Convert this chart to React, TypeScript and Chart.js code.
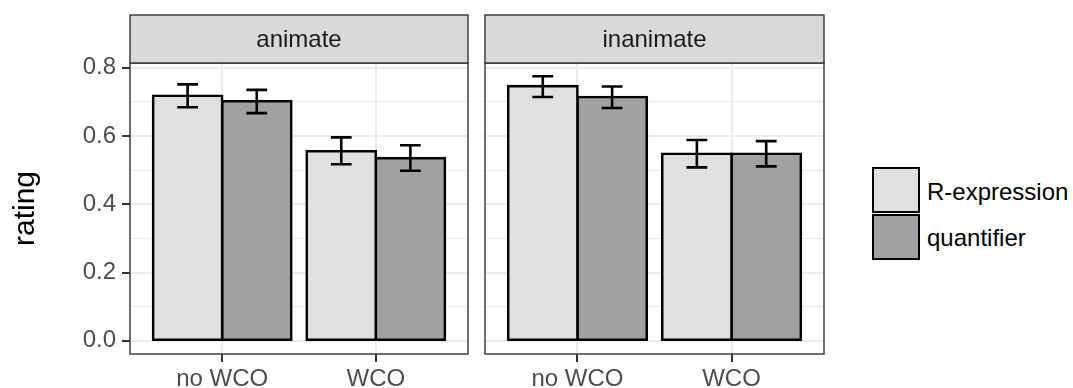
import React, { useEffect, useRef } from 'react';
import { Chart, registerables } from 'chart.js';

Chart.register(...registerables);

// ---------- data ----------
const categories = ['no WCO', 'WCO'];
const facetNames = ['animate', 'inanimate'];
const seriesNames = ['R-expression', 'quantifier'];
const seriesColors = ['#E0E0E0', '#A1A1A1'];

const animateRexp = [0.718, 0.555];
const animateRexpLow = [0.684, 0.517];
const animateRexpHigh = [0.751, 0.596];
const animateQuant = [0.702, 0.535];
const animateQuantLow = [0.667, 0.498];
const animateQuantHigh = [0.735, 0.573];

const inanimateRexp = [0.746, 0.548];
const inanimateRexpLow = [0.714, 0.508];
const inanimateRexpHigh = [0.775, 0.588];
const inanimateQuant = [0.714, 0.548];
const inanimateQuantLow = [0.682, 0.511];
const inanimateQuantHigh = [0.745, 0.585];

const yTickValues = [0, 0.1, 0.2, 0.3, 0.4, 0.5, 0.6, 0.7, 0.8];
const yMin = -0.03875;
const yMax = 0.81375;
const xMin = 0.4;
const xMax = 2.6;
const yTitle = 'rating';

const FONT = '"Liberation Sans", Arial, Helvetica, sans-serif';

type Facet = {
  name: string;
  values: number[][];
  lows: number[][];
  highs: number[][];
};

const facetData: Facet[] = [
  {
    name: facetNames[0],
    values: [animateRexp, animateQuant],
    lows: [animateRexpLow, animateQuantLow],
    highs: [animateRexpHigh, animateQuantHigh],
  },
  {
    name: facetNames[1],
    values: [inanimateRexp, inanimateQuant],
    lows: [inanimateRexpLow, inanimateQuantLow],
    highs: [inanimateRexpHigh, inanimateQuantHigh],
  },
];

function makePlugin(facet: Facet) {
  return {
    id: 'facetDecor',
    afterDatasetsDraw(chart: any) {
      const ctx = chart.ctx;
      const y = chart.scales.y;
      chart.data.datasets.forEach((_ds: any, di: number) => {
        const meta = chart.getDatasetMeta(di);
        meta.data.forEach((el: any, i: number) => {
          const x = el.x;
          const half = el.width * 0.15;
          const yl = y.getPixelForValue(facet.lows[di][i]);
          const yh = y.getPixelForValue(facet.highs[di][i]);
          ctx.save();
          ctx.strokeStyle = '#000';
          ctx.lineWidth = 2.6;
          ctx.beginPath();
          ctx.moveTo(x, yl);
          ctx.lineTo(x, yh);
          ctx.moveTo(x - half, yl);
          ctx.lineTo(x + half, yl);
          ctx.moveTo(x - half, yh);
          ctx.lineTo(x + half, yh);
          ctx.stroke();
          ctx.restore();
        });
      });
    },
    afterDraw(chart: any) {
      const ctx = chart.ctx;
      const a = chart.chartArea;
      ctx.save();
      // panel border
      ctx.strokeStyle = '#333333';
      ctx.lineWidth = 1.4;
      ctx.strokeRect(a.left, a.top, a.right - a.left, a.bottom - a.top);
      // strip
      const stripTop = 15;
      ctx.fillStyle = '#D9D9D9';
      ctx.fillRect(a.left, stripTop, a.right - a.left, a.top - stripTop);
      ctx.strokeRect(a.left, stripTop, a.right - a.left, a.top - stripTop);
      ctx.fillStyle = '#1A1A1A';
      ctx.font = `24px ${FONT}`;
      ctx.textAlign = 'center';
      ctx.textBaseline = 'middle';
      ctx.fillText(facet.name, (a.left + a.right) / 2, (stripTop + a.top) / 2 + 1);
      ctx.restore();
    },
  };
}

function FacetChart({ facet, first, left, width }: { facet: Facet; first: boolean; left: number; width: number }) {
  const ref = useRef<HTMLCanvasElement | null>(null);
  useEffect(() => {
    if (!ref.current) return;
    const chart = new Chart(ref.current, {
      type: 'bar',
      data: {
        datasets: seriesNames.map((s, si) => ({
          label: s,
          data: categories.map((_c, ci) => ({ x: ci + 1, y: facet.values[si][ci] })),
          backgroundColor: seriesColors[si],
          borderColor: '#000000',
          borderWidth: 2.6,
          borderSkipped: false,
          inflateAmount: 1.3,
          categoryPercentage: 0.9,
          barPercentage: 1.0,
        })),
      },
      options: {
        animation: false,
        responsive: false,
        devicePixelRatio: 1,
        events: [],
        layout: { padding: { top: 63, right: first ? 7 : 11, left: 0, bottom: 0 } },
        plugins: { legend: { display: false }, tooltip: { enabled: false } },
        scales: {
          x: {
            type: 'linear',
            min: xMin,
            max: xMax,
            offset: false,
            afterBuildTicks: (scale: any) => {
              scale.ticks = categories.map((_c, i) => ({ value: i + 1 }));
            },
            afterFit: (scale: any) => {
              scale.height = 34;
            },
            ticks: {
              autoSkip: false,
              maxRotation: 0,
              padding: 3,
              color: '#4D4D4D',
              font: { family: FONT, size: 24 },
              callback: (_v: any, i: number) => categories[i],
            },
            grid: {
              offset: false,
              color: '#EBEBEB',
              lineWidth: 2,
              tickColor: '#333333',
              tickLength: 8,
              drawTicks: true,
            },
            border: { display: false },
          },
          y: {
            type: 'linear',
            min: yMin,
            max: yMax,
            afterBuildTicks: (scale: any) => {
              scale.ticks = yTickValues.map((v) => ({ value: v }));
            },
            afterFit: (scale: any) => {
              scale.width = first ? 130 : 10;
            },
            title: {
              display: first,
              text: yTitle,
              color: '#000000',
              font: { family: FONT, size: 30 },
              padding: { top: 8, bottom: 0 },
            },
            ticks: {
              display: first,
              padding: 6,
              color: '#4D4D4D',
              font: { family: FONT, size: 24 },
              callback: (v: any, i: number) => (i % 2 === 0 ? Number(v).toFixed(1) : ''),
            },
            grid: {
              color: '#EBEBEB',
              lineWidth: (c: any) => (c.index % 2 === 0 ? 2 : 1),
              tickColor: (c: any) => (c.index % 2 === 0 && first ? '#333333' : 'rgba(0,0,0,0)'),
              tickLength: 8,
              drawTicks: first,
            },
            border: { display: false },
          },
        },
      } as any,
      plugins: [makePlugin(facet)],
    });
    return () => chart.destroy();
  }, [facet, first]);
  return (
    <canvas
      ref={ref}
      width={width}
      height={388}
      style={{ position: 'absolute', left, top: 0, width, height: 388 }}
    />
  );
}

export default function App() {
  return (
    <div
      style={{
        position: 'fixed',
        left: 0,
        top: 0,
        width: 1073,
        height: 388,
        background: '#FFFFFF',
        overflow: 'hidden',
        fontFamily: FONT,
      }}
    >
      <FacetChart facet={facetData[0]} first={true} left={0} width={475} />
      <FacetChart facet={facetData[1]} first={false} left={475} width={360} />
      {seriesNames.map((s, i) => (
        <React.Fragment key={s}>
          <div
            style={{
              position: 'absolute',
              left: 872,
              top: 167 + i * 47,
              width: 48,
              height: 46,
              boxSizing: 'border-box',
              border: '2.5px solid #000',
              background: seriesColors[i],
            }}
          />
          <div
            style={{
              position: 'absolute',
              left: 927,
              top: 180 + i * 46,
              fontSize: 24,
              lineHeight: '24px',
              color: '#000',
              whiteSpace: 'nowrap',
            }}
          >
            {s}
          </div>
        </React.Fragment>
      ))}
    </div>
  );
}
